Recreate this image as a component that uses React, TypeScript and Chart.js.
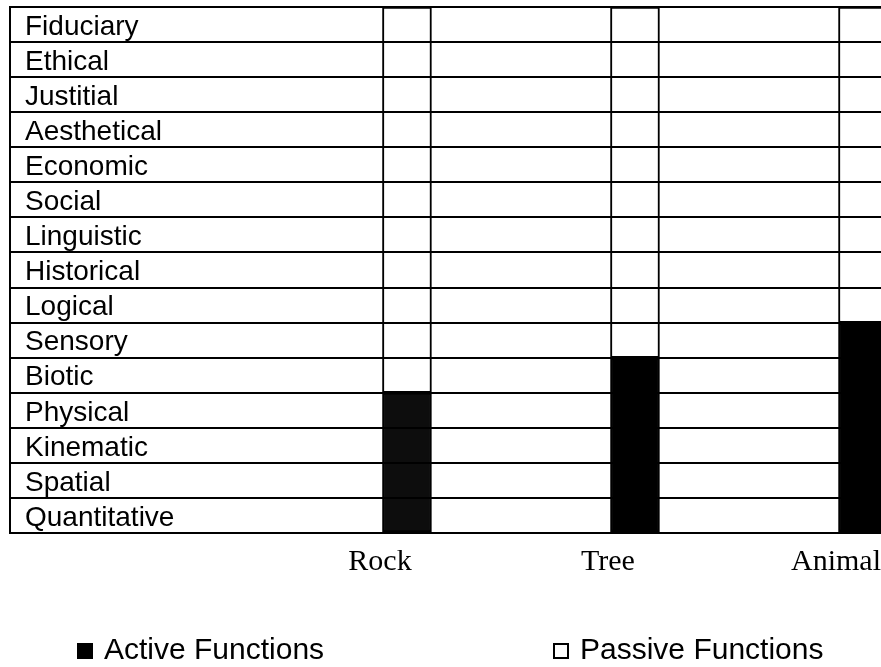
import React, { useEffect, useRef } from 'react';
import { Chart, registerables } from 'chart.js';

Chart.register(...registerables);

// Modal aspects, listed top to bottom
const aspects = [
  'Fiduciary', 'Ethical', 'Justitial', 'Aesthetical', 'Economic', 'Social',
  'Linguistic', 'Historical', 'Logical', 'Sensory', 'Biotic', 'Physical',
  'Kinematic', 'Spatial', 'Quantitative',
];
const entities = ['Rock', 'Tree', 'Animal'];
// number of aspects (from the bottom) in which each entity functions actively
const activeValues = [4, 5, 6];
// remaining aspects in which it functions passively
const passiveValues = [11, 10, 9];
const seriesNames = ['Active Functions', 'Passive Functions'];

const splitLegend = {
  id: 'splitLegend',
  afterDraw(chart: any, _args: any, opts: any) {
    const ctx = chart.ctx;
    ctx.save();
    ctx.font = opts.font;
    ctx.textBaseline = 'middle';
    ctx.textAlign = 'left';
    chart.data.datasets.forEach((ds: any, i: number) => {
      const x = opts.x[i];
      const y = opts.y;
      const s = opts.size;
      if (ds.legendFilled) {
        ctx.fillStyle = '#000';
        ctx.fillRect(x, y - s / 2, s, s);
      } else {
        ctx.lineWidth = 2;
        ctx.strokeStyle = '#000';
        ctx.strokeRect(x + 1, y - s / 2 + 1, s - 2, s - 2);
      }
      ctx.fillStyle = '#000';
      ctx.fillText(ds.label, x + s + 11, y);
    });
    ctx.restore();
  },
};

export default function App() {
  const ref = useRef<HTMLCanvasElement | null>(null);

  useEffect(() => {
    if (!ref.current) return;
    const chart = new Chart(ref.current, {
      type: 'bar',
      data: {
        datasets: [
          {
            label: seriesNames[0],
            data: activeValues.map((v, i) => ({ x: i + 1, y: v })),
            backgroundColor: ['#0d0d0d', '#000000', '#000000'],
            borderColor: '#000',
            borderWidth: 2,
            borderSkipped: false,
            barThickness: 49,
            legendFilled: true,
          } as any,
          {
            label: seriesNames[1],
            data: passiveValues.map((v, i) => ({ x: i + 1, y: v })),
            backgroundColor: '#ffffff',
            borderColor: '#000',
            borderWidth: 2,
            borderSkipped: false,
            barThickness: 49,
            legendFilled: false,
          } as any,
        ],
      },
      options: {
        responsive: false,
        animation: false,
        layout: { padding: { left: 10, top: 7, right: 0, bottom: 76 } },
        plugins: {
          legend: { display: false },
          tooltip: { enabled: false },
          splitLegend: {
            x: [77, 553],
            y: 651,
            size: 16,
            font: '30px "Liberation Sans", Arial, sans-serif',
          },
        } as any,
        scales: {
          x: {
            type: 'linear',
            stacked: true,
            offset: false,
            min: -0.741,
            max: 3.079,
            afterBuildTicks: (scale: any) => {
              scale.ticks = entities.map((_, i) => ({ value: i + 1 }));
            },
            afterFit: (scale: any) => {
              scale.paddingLeft = 0;
              scale.paddingRight = 0;
            },
            grid: { display: false, drawTicks: false },
            border: { display: false },
            ticks: {
              autoSkip: false,
              maxRotation: 0,
              padding: 14,
              labelOffset: -27,
              color: '#000',
              font: { family: '"Liberation Serif", "Times New Roman", serif', size: 30, lineHeight: 1 },
              callback: (value: any) => entities[Number(value) - 1] ?? '',
            },
          },
          y: {
            type: 'linear',
            stacked: true,
            min: 0,
            max: aspects.length,
            afterFit: (scale: any) => {
              scale.width = 0;
              scale.paddingTop = 0;
              scale.paddingBottom = 0;
            },
            grid: { color: '#000', lineWidth: 2, drawTicks: false, z: 1 },
            border: { display: true, color: '#000', width: 2, z: 2 },
            ticks: {
              stepSize: 1,
              autoSkip: false,
              mirror: true,
              padding: 15,
              labelOffset: -15,
              color: '#000',
              font: { family: '"Liberation Sans", Arial, sans-serif', size: 28 },
              callback: (value: any) => {
                const v = Number(value);
                if (v >= aspects.length) return '';
                return aspects[aspects.length - 1 - v];
              },
            },
          },
        },
      } as any,
      plugins: [splitLegend],
    });
    return () => chart.destroy();
  }, []);

  return (
    <div style={{ position: 'fixed', left: 0, top: 0, width: 881, height: 667, overflow: 'hidden', background: '#fff' }}>
      <canvas ref={ref} width={881} height={667} style={{ display: 'block' }} />
    </div>
  );
}
